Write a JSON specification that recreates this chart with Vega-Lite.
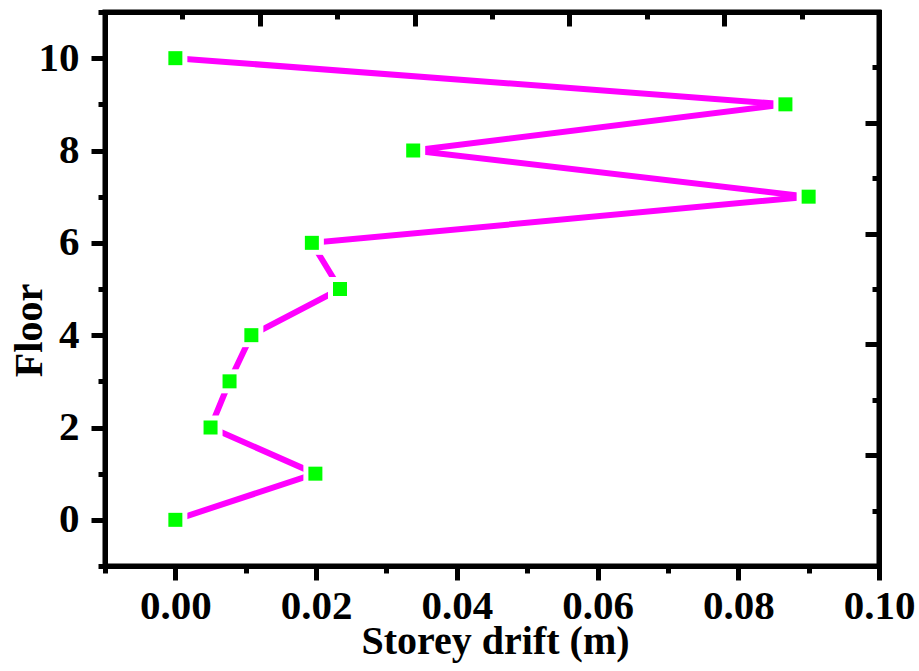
{
  "$schema": "https://vega.github.io/schema/vega-lite/v6.json",
  "autosize": "none",
  "width": 774,
  "height": 554,
  "padding": {"left": 105, "top": 12, "right": 40, "bottom": 105},
  "background": "white",
  "config": {
    "view": {"stroke": "black", "strokeWidth": 5},
    "axis": {
      "domainColor": "black",
      "domainWidth": 5,
      "domainCap": "square",
      "tickColor": "black",
      "tickWidth": 5,
      "grid": false,
      "labelFont": "Liberation Serif",
      "labelFontWeight": "bold",
      "labelFontSize": 41,
      "labelColor": "black",
      "titleFont": "Liberation Serif",
      "titleFontWeight": "bold",
      "titleFontSize": 40,
      "titleColor": "black",
      "labelOverlap": false,
      "labelFlush": false,
      "labelBound": false
    }
  },
  "data": {
    "values": [
      {"floor": 0, "drift": 0.0},
      {"floor": 1, "drift": 0.0199},
      {"floor": 2, "drift": 0.0050},
      {"floor": 3, "drift": 0.0077},
      {"floor": 4, "drift": 0.0108},
      {"floor": 5, "drift": 0.0234},
      {"floor": 6, "drift": 0.0194},
      {"floor": 7, "drift": 0.0900},
      {"floor": 8, "drift": 0.0338},
      {"floor": 9, "drift": 0.0867},
      {"floor": 10, "drift": 0.0}
    ]
  },
  "layer": [
    {
      "mark": {"type": "line", "color": "#FF00FF", "strokeWidth": 6},
      "encoding": {
        "x": {
          "field": "drift", "type": "quantitative",
          "scale": {"domain": [-0.01, 0.10], "nice": false, "zero": false},
          "axis": {
            "orient": "bottom",
            "title": "Storey drift (m)",
            "values": [-0.01, 0, 0.01, 0.02, 0.03, 0.04, 0.05, 0.06, 0.07, 0.08, 0.09, 0.10],
            "labelExpr": "round(datum.value*100) % 2 == 0 ? format(datum.value, '.2f') : ''",
            "tickSize": {"condition": {"test": "round(datum.value*100) % 2 == 0", "value": 14}, "value": 7},
            "labelBaseline": "alphabetic",
            "labelPadding": 38,
            "titleBaseline": "alphabetic",
            "titleY": 87,
            "titleX": 390,
            "titleAnchor": "middle"
          }
        },
        "y": {
          "field": "floor", "type": "quantitative",
          "scale": {"domain": [-1, 11], "nice": false, "zero": false},
          "axis": {
            "orient": "left",
            "title": "Floor",
            "values": [-1, 0, 1, 2, 3, 4, 5, 6, 7, 8, 9, 10, 11],
            "labelExpr": "round(datum.value) % 2 == 0 ? datum.label : ''",
            "tickSize": {"condition": {"test": "round(datum.value) % 2 == 0", "value": 14}, "value": 7},
            "labelPadding": 12,
            "titleAngle": 270,
            "titleBaseline": "alphabetic",
            "titleX": -64,
            "titleY": 318,
            "titleAlign": "center"
          }
        },
        "order": {"field": "floor", "type": "quantitative"}
      }
    },
    {
      "mark": {"type": "point", "shape": "square", "filled": true, "color": "white", "opacity": 1, "size": 576},
      "encoding": {
        "x": {"field": "drift", "type": "quantitative", "axis": null},
        "y": {"field": "floor", "type": "quantitative", "axis": null}
      }
    },
    {
      "mark": {"type": "point", "shape": "square", "filled": true, "color": "#00FF00", "opacity": 1, "size": 196},
      "encoding": {
        "x": {"field": "drift", "type": "quantitative", "axis": null},
        "y": {"field": "floor", "type": "quantitative", "axis": null}
      }
    },
    {
      "mark": {"type": "point", "opacity": 0},
      "encoding": {
        "x": {
          "field": "drift", "type": "quantitative",
          "axis": {
            "orient": "top",
            "title": null,
            "labels": false,
            "values": [-0.01, 0.001, 0.012, 0.023, 0.034, 0.045, 0.056, 0.067, 0.078, 0.089, 0.10],
            "tickSize": {"condition": {"test": "round((datum.value+0.01)/0.011) % 2 == 0", "value": -14}, "value": -7}
          }
        },
        "y": {
          "field": "floor", "type": "quantitative",
          "axis": {
            "orient": "right",
            "title": null,
            "labels": false,
            "values": [-1, 0.2, 1.4, 2.6, 3.8, 5.0, 6.2, 7.4, 8.6, 9.8, 11],
            "tickSize": {"condition": {"test": "round((datum.value+1)/1.2) % 2 == 0", "value": -14}, "value": -7}
          }
        }
      }
    }
  ],
  "resolve": {"axis": {"x": "independent", "y": "independent"}}
}
